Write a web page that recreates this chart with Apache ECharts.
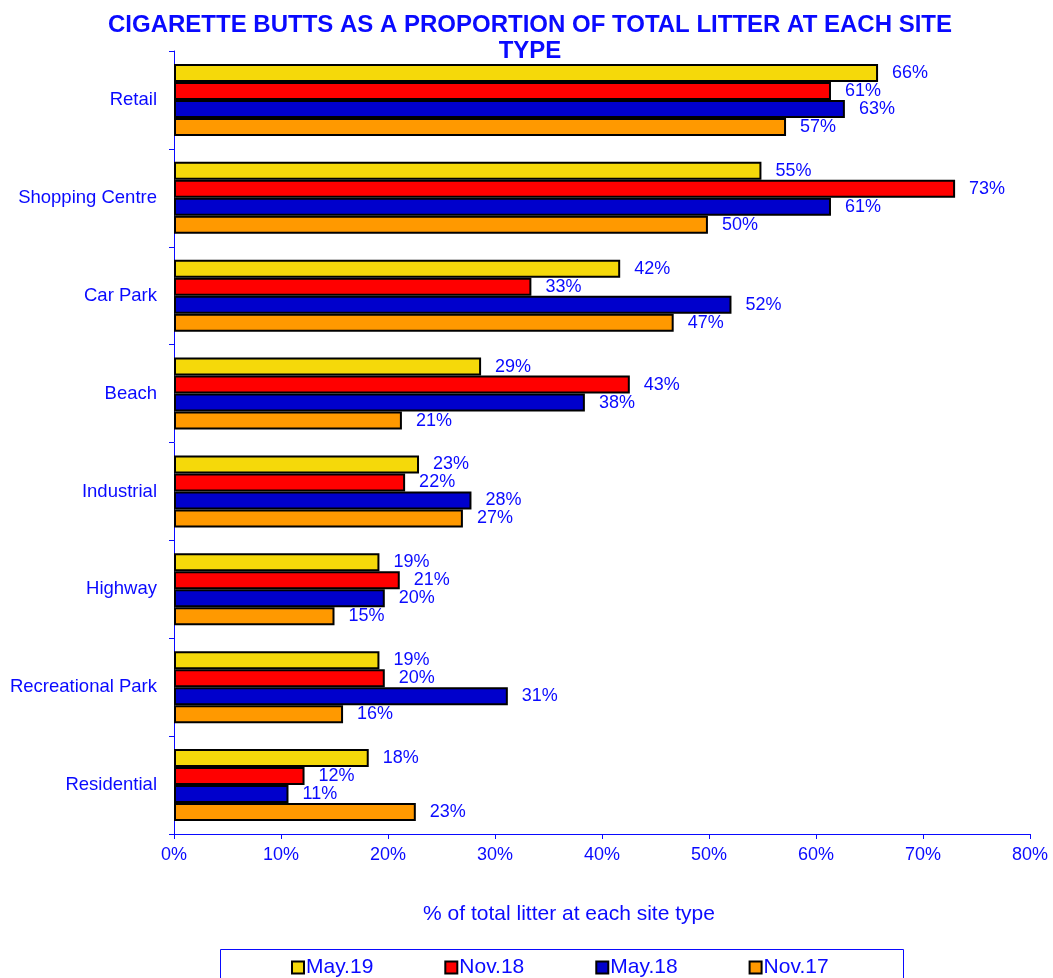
<!DOCTYPE html>
<html>
<head>
<meta charset="utf-8">
<script src="https://cdn.jsdelivr.net/npm/echarts@6/dist/echarts.min.js"></script>
<style>
  html, body { margin: 0; padding: 0; background: #fff; }
  #chart { width: 1053px; height: 978px; }
</style>
</head>
<body>
<div id="chart"></div>
<script>
var sites = ['Retail', 'Shopping Centre', 'Car Park', 'Beach', 'Industrial', 'Highway', 'Recreational Park', 'Residential'];
var periods = ['May.19', 'Nov.18', 'May.18', 'Nov.17'];
var may19 = [65.8, 54.9, 41.7, 28.7, 22.9, 19.2, 19.2, 18.2];
var nov18 = [61.4, 73.0, 33.4, 42.6, 21.6, 21.1, 19.7, 12.2];
var may18 = [62.7, 61.4, 52.1, 38.4, 27.8, 19.7, 31.2, 10.7];
var nov17 = [57.2, 49.9, 46.7, 21.3, 27.0, 15.0, 15.8, 22.6];
var xTicks = [0, 10, 20, 30, 40, 50, 60, 70, 80];

var colors = ['#f5d90a', '#ff0000', '#0000cc', '#ff9900'];
var blue = '#0a0aff';
var font = 'Liberation Sans, Arial, sans-serif';
var allValues = [may19, nov18, may18, nov17];

var chart = echarts.init(document.getElementById('chart'));

var series = periods.map(function (name, i) {
  return {
    name: name,
    type: 'bar',
    data: allValues[i],
    barGap: '0%',
    barCategoryGap: '26.5%',
    itemStyle: { color: colors[i], borderColor: '#000', borderWidth: 2 },
    label: {
      show: true,
      position: 'right',
      distance: 14,
      color: blue,
      fontFamily: font,
      fontSize: 18,
      formatter: function (p) { return Math.round(p.value) + '%'; }
    }
  };
});

option = {
  animation: false,
  color: colors,
  title: {
    text: 'CIGARETTE BUTTS AS A PROPORTION OF TOTAL LITTER AT EACH SITE\nTYPE',
    left: 525,
    top: 7,
    textAlign: 'center',
    textStyle: {
      color: blue,
      fontFamily: font,
      fontWeight: 'bold',
      fontSize: 24,
      lineHeight: 26
    }
  },
  grid: { left: 174, right: 23, top: 51, bottom: 144, containLabel: false },
  xAxis: {
    type: 'value',
    min: xTicks[0],
    max: xTicks[xTicks.length - 1],
    interval: 10,
    name: '% of total litter at each site type',
    nameLocation: 'middle',
    nameGap: 70,
    nameTextStyle: { color: blue, fontSize: 21, fontFamily: font, padding: [0, 66, 0, 0] },
    axisLine: { show: true, lineStyle: { color: blue, width: 1 } },
    axisTick: { show: true, length: 5, lineStyle: { color: blue } },
    splitLine: { show: false },
    axisLabel: {
      color: blue,
      fontSize: 18,
      margin: 12,
      fontFamily: font,
      formatter: '{value}%'
    }
  },
  yAxis: {
    type: 'category',
    data: sites,
    inverse: true,
    axisLine: { show: true, lineStyle: { color: blue, width: 1 } },
    axisTick: { show: true, length: 5, lineStyle: { color: blue } },
    axisLabel: {
      color: blue,
      fontSize: 18.5,
      margin: 17,
      fontFamily: font
    }
  },
  legend: {
    data: periods,
    left: 286,
    top: 952,
    itemWidth: 12,
    itemHeight: 12,
    itemGap: 71,
    icon: 'rect',
    itemStyle: { borderColor: '#000', borderWidth: 2 },
    textStyle: { color: blue, fontSize: 21, fontFamily: font, padding: [0, 0, 0, -3] }
  },
  graphic: [{
    type: 'rect',
    shape: { x: 220.5, y: 949.5, width: 683, height: 40 },
    style: { fill: 'none', stroke: blue, lineWidth: 1 }
  }],
  series: series
};

chart.setOption(option);
</script>
</body>
</html>
